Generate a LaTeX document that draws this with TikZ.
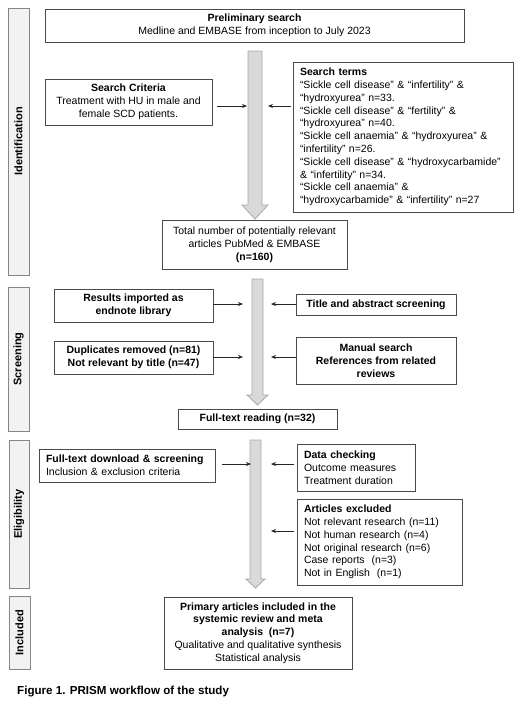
\documentclass[tikz,border=0pt]{standalone}
\usepackage{fontspec}
\setmainfont{Liberation Sans}
\usetikzlibrary{arrows.meta}
\definecolor{boxline}{HTML}{4A4A4A}
\definecolor{sideline}{HTML}{858585}
\definecolor{sidefill}{HTML}{F2F2F2}
\definecolor{bigfill}{HTML}{D9D9D9}
\definecolor{bigline}{HTML}{A8A8A8}
\begin{document}
\begin{tikzpicture}[x=1pt,y=-1pt,
  every node/.style={font=\fontsize{10.5}{12.8}\selectfont, text=black},
  box/.style={draw=boxline, line width=0.9pt, fill=white, rectangle, inner sep=0pt, align=center},
  bbox/.style={box, font=\fontsize{10.5}{12.8}\selectfont\bfseries},
  lbox/.style={draw=boxline, line width=0.9pt, fill=white, rectangle, inner xsep=7pt, inner ysep=0pt, align=left},
  side/.style={draw=sideline, line width=1pt, fill=sidefill, rectangle, rotate=90, inner sep=0pt, font=\fontsize{11}{12}\selectfont\bfseries},
  bigarrow/.style={draw=bigline, fill=bigfill, line width=0.8pt, line join=miter},
  thinarrow/.style={draw=black!85, line width=0.7pt, -{Stealth[length=5pt,width=4pt]}}
]
\useasboundingbox (0,0) rectangle (520,702);

% side labels
\node[side, minimum width=267pt, minimum height=21pt] (ident) at (18.5,141.5) {Identification};
\node[side, minimum width=144pt, minimum height=21pt] (screen) at (18.5,359) {Screening};
\node[side, minimum width=148pt, minimum height=20pt] (elig) at (19,514) {Eligibility};
\node[side, minimum width=73pt, minimum height=21pt] (incl) at (19.5,632.5) {Included};

% big arrows
\draw[bigarrow] (248,51) -- (262,51) -- (262,205) -- (268,205) -- (255,219) -- (242,205) -- (248,205) -- cycle;
\draw[bigarrow] (252,279) -- (263,279) -- (263,395) -- (268,395) -- (257.5,405) -- (247,395) -- (252,395) -- cycle;
\draw[bigarrow] (250,440) -- (261,440) -- (261,579) -- (265,579) -- (255.5,588) -- (246,579) -- (250,579) -- cycle;

% boxes
\node[box, minimum width=419pt, minimum height=33pt] (prelim) at (254.5,25.5)
  {\textbf{Preliminary search}\\Medline and EMBASE from inception to July 2023};
\node[box, minimum width=167pt, minimum height=46pt] (crit) at (128.5,102)
  {\textbf{Search Criteria}\\Treatment with HU in male and\\female SCD patients.};
\node[lbox, text width=206pt, minimum height=150pt] (terms) at (403,137)
  {\textbf{Search terms}\\
  “Sickle cell disease” \& “infertility” \&\\
  “hydroxyurea” n=33.\\
  “Sickle cell disease” \& “fertility” \&\\
  “hydroxyurea” n=40.\\
  “Sickle cell anaemia” \& “hydroxyurea” \&\\
  “infertility” n=26.\\
  “Sickle cell disease” \& “hydroxycarbamide”\\
  \& “infertility” n=34.\\
  “Sickle cell anaemia” \&\\
  “hydroxycarbamide” \& “infertility” n=27};
\node[box, minimum width=185pt, minimum height=49pt] (total) at (254.5,244.5)
  {Total number of potentially relevant\\articles PubMed \& EMBASE\\\textbf{(n=160)}};
\node[bbox, minimum width=159pt, minimum height=33pt] (results) at (133.5,305.5)
  {Results imported as\\endnote library};
\node[bbox, minimum width=160pt, minimum height=21pt] (title) at (376,304.5)
  {Title and abstract screening};
\node[bbox, minimum width=159pt, minimum height=33pt] (dup) at (133.5,357.5)
  {Duplicates removed (n=81)\\Not relevant by title (n=47)};
\node[bbox, minimum width=160pt, minimum height=47pt] (manual) at (376,360.5)
  {Manual search\\References from related\\reviews};
\node[bbox, minimum width=159pt, minimum height=20pt] (full) at (257.5,419)
  {Full-text reading (n=32)};
\node[lbox, text width=162pt, minimum height=33pt] (download) at (127,465.5)
  {\textbf{Full-text download \& screening}\\Inclusion \& exclusion criteria};
\node[lbox, text width=104pt, minimum height=47pt] (check) at (356,467.5)
  {\textbf{Data checking}\\Outcome measures\\Treatment duration};
\node[lbox, text width=151pt, minimum height=86pt] (excl) at (379.5,542)
  {\textbf{Articles excluded}\\Not relevant research (n=11)\\Not human research (n=4)\\Not original research (n=6)\\Case reports~ (n=3)\\Not in English~ (n=1)};
\node[box, minimum width=188pt, minimum height=72pt] (primary) at (258,633)
  {\textbf{Primary articles included in the}\\\textbf{systemic review and meta}\\\textbf{analysis~ (n=7)}\\Qualitative and qualitative synthesis\\Statistical analysis};

\node[anchor=base west, inner sep=0pt, font=\fontsize{11.6}{13}\selectfont\bfseries] (caption) at (17,694)
  {Figure 1. PRISM workflow of the study};

% arrow end points
\coordinate (c1) at (247,106);
\coordinate (c2) at (268,106);
\coordinate (c3) at (243,304);
\coordinate (c4) at (271,304);
\coordinate (c5) at (243,357);
\coordinate (c6) at (271,357);
\coordinate (c7) at (251,464);
\coordinate (c8) at (271,464);
\coordinate (c9) at (271,531);

\draw[thinarrow, shorten <=5pt] (crit.east |- c1) -- (c1);
\draw[thinarrow, shorten <=2pt] (terms.west |- c2) -- (c2);
\draw[thinarrow] (results.east |- c3) -- (c3);
\draw[thinarrow] (title.west |- c4) -- (c4);
\draw[thinarrow] (dup.east |- c5) -- (c5);
\draw[thinarrow] (manual.west |- c6) -- (c6);
\draw[thinarrow, shorten <=7pt] (download.east |- c7) -- (c7);
\draw[thinarrow, shorten <=3pt] (check.west |- c8) -- (c8);
\draw[thinarrow, shorten <=3pt] (excl.west |- c9) -- (c9);
\end{tikzpicture}
\end{document}
